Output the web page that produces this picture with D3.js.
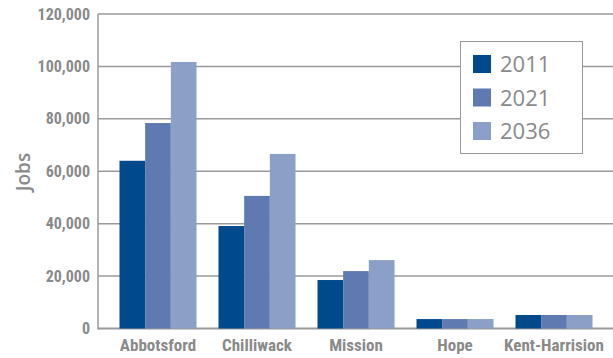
<!DOCTYPE html>
<html>
<head>
<meta charset="utf-8">
<script src="https://cdn.jsdelivr.net/npm/d3@7"></script>
<style>
	body { margin: 0; background: #fff; }
	svg { display: block; }
	text { font-family: "Liberation Sans Narrow", "Roboto Condensed", "Liberation Sans", Arial, sans-serif; }
</style>
</head>
<body>
<svg width="613" height="358"></svg>
<script>
// categories and series
const regions = ["Abbotsford", "Chilliwack", "Mission", "Hope", "Kent-Harrision"];
const years = ["2011", "2021", "2036"];
const jobs2011 = [64000, 39100, 18500, 3600, 5150];
const jobs2021 = [78400, 50600, 21900, 3600, 5150];
const jobs2036 = [101700, 66600, 26100, 3600, 5150];
const yTicks = [0, 20000, 40000, 60000, 80000, 100000, 120000];
const colors = ["#004a8c", "#5f7ab0", "#8b9fc7"];

const seriesValues = [jobs2011, jobs2021, jobs2036];

const svg = d3.select("svg");
const grey = "#8a8a8a";

const x0 = d3.scaleBand()
	.domain(regions)
	.range([108.5, 603.5])
	.paddingInner(0.222)
	.paddingOuter(0.111);

const x1 = d3.scaleBand()
	.domain(years)
	.range([0, x0.bandwidth()])
	.padding(0);

const y = d3.scaleLinear()
	.domain([0, 120000])
	.range([328.5, 14]);

// gridlines
svg.append("g")
	.selectAll("line")
	.data(yTicks)
	.join("line")
	.attr("x1", 98)
	.attr("x2", 613)
	.attr("y1", d => y(d))
	.attr("y2", d => y(d))
	.attr("stroke", "#9a9a9a")
	.attr("stroke-width", d => d === 0 ? 2 : 1.5);

// y axis labels
const yAxis = d3.axisLeft(y)
	.tickValues(yTicks)
	.tickFormat(d3.format(","))
	.tickSize(0)
	.tickPadding(8);

const gy = svg.append("g")
	.attr("transform", "translate(98,0)")
	.call(yAxis);
gy.select(".domain").remove();
gy.selectAll("text")
	.attr("fill", grey)
	.attr("font-size", 16)
	.attr("font-weight", "bold");

// axis line
svg.append("line")
	.attr("x1", 98).attr("x2", 98)
	.attr("y1", y(120000)).attr("y2", y(0) + 1)
	.attr("stroke", "#9a9a9a")
	.attr("stroke-width", 1.5);

// bars
const groups = svg.append("g")
	.selectAll("g")
	.data(regions)
	.join("g")
	.attr("transform", d => `translate(${x0(d)},0)`);

groups.selectAll("rect")
	.data((d, i) => years.map((yr, j) => ({year: yr, value: seriesValues[j][i], color: colors[j]})))
	.join("rect")
	.attr("x", d => x1(d.year))
	.attr("width", x1.bandwidth())
	.attr("y", d => y(d.value))
	.attr("height", d => y(0) - y(d.value))
	.attr("fill", d => d.color);

// x axis labels
const xAxis = d3.axisBottom(x0)
	.tickSize(0)
	.tickPadding(10);

const gx = svg.append("g")
	.attr("transform", `translate(0,${y(0)})`)
	.call(xAxis);
gx.select(".domain").remove();
gx.selectAll("text")
	.attr("fill", grey)
	.attr("font-size", 17)
	.attr("font-weight", "bold");

// y title
svg.append("text")
	.attr("transform", "translate(30,172) rotate(-90)")
	.attr("text-anchor", "middle")
	.attr("fill", grey)
	.attr("font-size", 19)
	.attr("font-weight", 600)
	.style("font-family", "'Open Sans', sans-serif")
	.text("Jobs");

// legend
const legend = svg.append("g");
legend.append("rect")
	.attr("x", 460.5)
	.attr("y", 41.5)
	.attr("width", 122)
	.attr("height", 112)
	.attr("fill", "#fff")
	.attr("stroke", "#9a9a9a")
	.attr("stroke-width", 1);

const items = legend.selectAll("g.item")
	.data(years)
	.join("g")
	.attr("class", "item")
	.attr("transform", (d, i) => `translate(473,${55 + i * 33.5})`);

items.append("rect")
	.attr("width", 18)
	.attr("height", 18)
	.attr("fill", (d, i) => colors[i]);

items.append("text")
	.attr("x", 27)
	.attr("y", 17)
	.attr("fill", grey)
	.attr("font-size", 22)
	.style("font-family", "'Open Sans', sans-serif")
	.text(d => d);
</script>
</body>
</html>
